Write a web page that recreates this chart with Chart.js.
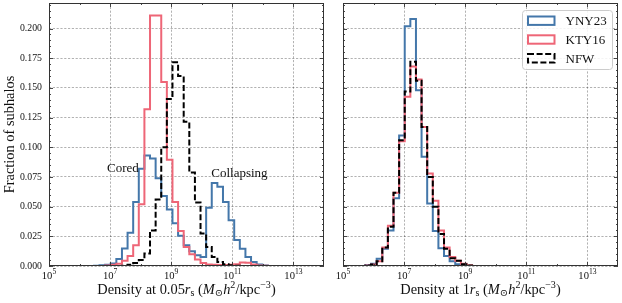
<!DOCTYPE html>
<html><head><meta charset="utf-8">
<script src="https://cdn.jsdelivr.net/npm/chart.js@4.4.1/dist/chart.umd.min.js"></script>
<style>
html,body{margin:0;padding:0;background:#fff;}
#wrap{position:relative;width:622px;height:303px;overflow:hidden;background:#fff;}
canvas{position:absolute;top:0;}
#c1{left:0;} #c2{left:333px;}
</style></head><body>
<div id="wrap"><canvas id="c1" width="333" height="303"></canvas><canvas id="c2" width="289" height="303"></canvas></div>
<script>
// ---- histogram bins: log10(density) from 5 to 14, 49 bins ----
const BIN_LOG_MIN = 5, BIN_LOG_MAX = 14, N_BINS = 49;
const xTickExponents = [5, 7, 9, 11, 13];
const xMinorExponents = [6, 8, 10, 12];
const yTickStep = 0.025;
const yMax = 0.2215;
const seriesNames = ['YNY23', 'KTY16', 'NFW'];

// ---- left panel: density at 0.05 r_s (fraction per bin, bins 0..48) ----
const inner_YNY23 = [0,0,0,0,0,0,0,0, 0.0003,0.0006,0.001,0.0022,0.006,0.0147,0.028,0.054,0.082,0.093,0.0905,0.074,0.059,0.0475,0.036,0.0255,0.0175,0.0125,0.009,0.0075,0.049,0.070,0.0667,0.054,0.0385,0.022,0.0146,0.0076,0.0034,0.0012,0.0004,0.0001, 0,0,0,0,0,0,0,0,0];
const inner_KTY16 = [0,0,0,0,0,0,0,0,0,0, 0.0005,0.001,0.002,0.0045,0.0085,0.0175,0.052,0.132,0.211,0.211,0.155,0.0895,0.054,0.0295,0.016,0.0099,0.0054,0.0025,0.0012,0.001,0.0008,0.0008,0.001,0.0015,0.003,0.0028,0.0012,0.0005,0.0002, 0,0,0,0,0,0,0,0,0,0];
const inner_NFW   = [0,0,0,0,0,0,0,0,0,0,0,0,0, 0.0003,0.001,0.0025,0.005,0.0105,0.030,0.056,0.100,0.1407,0.1716,0.160,0.1215,0.0788,0.0535,0.0273,0.016,0.0076,0.0034,0.0014,0.0006,0.0002, 0,0,0,0,0,0,0,0,0,0,0,0,0,0,0];

// ---- right panel: density at 1 r_s ----
const outer_YNY23 = [0,0,0,0, 0.0008,0.002,0.0062,0.0146,0.030,0.057,0.110,0.202,0.208,0.148,0.092,0.0526,0.0295,0.015,0.0085,0.004,0.0015,0.0005, 0,0,0,0,0,0,0,0,0,0,0,0,0,0,0,0,0,0,0,0,0,0,0,0,0,0,0];
const outer_KTY16 = [0,0,0,0, 0.0005,0.0012,0.004,0.0155,0.034,0.0616,0.105,0.1426,0.168,0.157,0.117,0.078,0.055,0.030,0.0155,0.0076,0.0045,0.0018,0.0006, 0,0,0,0,0,0,0,0,0,0,0,0,0,0,0,0,0,0,0,0,0,0,0,0,0,0];
const outer_NFW   = [0,0,0,0, 0.0005,0.0012,0.004,0.0155,0.033,0.0616,0.106,0.147,0.172,0.156,0.117,0.075,0.050,0.027,0.0146,0.0065,0.0045,0.0015,0.0005, 0,0,0,0,0,0,0,0,0,0,0,0,0,0,0,0,0,0,0,0,0,0,0,0,0,0];

const COLORS = {YNY23: '#4477AA', KTY16: '#EE6677', NFW: '#000000'};
const FONT = '"Liberation Serif", "DejaVu Serif", serif';
const FS = 13;       // legend / annotations
const FS_TITLE = 14.4;
const FS_YTICK = 9.8;
const FS_XTICK = 10.6;
const TXT = '#111';
const AXIS = '#333';
const GRID = 'rgba(0,0,0,0.38)';

const binEdges = Array.from({length: N_BINS + 1}, (_, k) => Math.pow(10, BIN_LOG_MIN + (BIN_LOG_MAX - BIN_LOG_MIN) * k / N_BINS));

function stepData(values) {
  const pts = [{x: binEdges[0], y: 0}];
  values.forEach((v, k) => pts.push({x: binEdges[k], y: v}));
  pts.push({x: binEdges[N_BINS], y: 0});
  return pts;
}

function makeDatasets(vals) {
  return seriesNames.map((name, i) => ({
    label: name,
    data: stepData(vals[i]),
    borderColor: COLORS[name],
    backgroundColor: 'rgba(0,0,0,0)',
    borderWidth: 2,
    borderDash: name === 'NFW' ? [6, 2.6] : [],
    stepped: 'before',
    fill: false,
    pointRadius: 0,
    order: 2 - i,
    borderJoinStyle: 'miter',
    borderCapStyle: 'butt'
  }));
}

function fnt(size, it) { return (it ? 'italic ' : '') + size + 'px ' + FONT; }
function richWidth(ctx, segs) { let w = 0; for (const s of segs) { ctx.font = fnt(s.size, s.it); w += ctx.measureText(s.t).width; } return w; }
function drawRich(ctx, segs, x, y, align) {
  const w = richWidth(ctx, segs);
  let cx = align === 'center' ? x - w / 2 : (align === 'right' ? x - w : x);
  ctx.textAlign = 'left'; ctx.textBaseline = 'alphabetic';
  for (const s of segs) { ctx.font = fnt(s.size, s.it); ctx.fillText(s.t, cx, y + (s.dy || 0)); cx += ctx.measureText(s.t).width; }
}
function xTitle(prefix) {
  const F = FS_TITLE, S = FS_TITLE * 0.7;
  return [{t: 'Density at ' + prefix, size: F}, {t: 'r', it: true, size: F}, {t: 's', size: S, dy: 2.8}, {t: ' (', size: F},
          {t: 'M', it: true, size: F}, {t: '\u2299', size: S, dy: 2.8}, {t: 'h', it: true, size: F}, {t: '2', size: S, dy: -6},
          {t: '/kpc', size: F}, {t: '\u22123', size: S, dy: -6}, {t: ')', size: F}];
}

function framePlugin(extra) {
  return {
    id: 'frame',
    afterDraw(chart) {
      const {ctx, chartArea: a} = chart;
      const x = chart.scales.x, y = chart.scales.y;
      ctx.save();
      // inward ticks
      ctx.strokeStyle = AXIS; ctx.lineWidth = 0.9; ctx.setLineDash([]);
      ctx.beginPath();
      for (const e of xTickExponents) { const px = Math.round(x.getPixelForValue(Math.pow(10, e))) + 0.5;
        ctx.moveTo(px, a.bottom); ctx.lineTo(px, a.bottom - 4); ctx.moveTo(px, a.top); ctx.lineTo(px, a.top + 4); }
      for (const e of xMinorExponents) { const px = Math.round(x.getPixelForValue(Math.pow(10, e))) + 0.5;
        ctx.moveTo(px, a.bottom); ctx.lineTo(px, a.bottom - 2); ctx.moveTo(px, a.top); ctx.lineTo(px, a.top + 2); }
      for (let i = 0; i * 0.005 < yMax; i++) {
        const v = i * 0.005; const py = Math.round(y.getPixelForValue(v)) + 0.5; const len = (i % 5 === 0) ? 4 : 2;
        ctx.moveTo(a.left, py); ctx.lineTo(a.left + len, py); ctx.moveTo(a.right, py); ctx.lineTo(a.right - len, py);
      }
      ctx.stroke();
      // frame
      ctx.lineWidth = 1;
      ctx.strokeRect(Math.round(a.left) + 0.5, Math.round(a.top) + 0.5, Math.round(a.right - a.left) - 1, Math.round(a.bottom - a.top) - 1);
      // x tick labels
      ctx.fillStyle = TXT;
      for (const e of xTickExponents) {
        const px = x.getPixelForValue(Math.pow(10, e));
        drawRich(ctx, [{t: '10', size: FS_XTICK}, {t: String(e), size: FS_XTICK * 0.72, dy: -5}], px, 278.5, 'center');
      }
      drawRich(ctx, xTitle(extra.prefix), (a.left + a.right) / 2, 293.5, 'center');
      if (extra.after) extra.after(chart, ctx, a);
      ctx.restore();
    }
  };
}

function zeroPad(s) { s.paddingTop = 0; s.paddingBottom = 0; s.paddingLeft = 0; s.paddingRight = 0; }

function baseOptions(yAxisWidth, padRight, showYLabels) {
  return {
    responsive: false, animation: false, devicePixelRatio: 1,
    layout: {padding: {top: 3, right: padRight, left: 0, bottom: 0}},
    plugins: {legend: {display: false}, tooltip: {enabled: false}},
    elements: {point: {radius: 0}, line: {tension: 0}},
    scales: {
      x: {type: 'logarithmic', bounds: 'data', min: Math.pow(10, BIN_LOG_MIN), max: Math.pow(10, BIN_LOG_MAX),
          afterBuildTicks: s => { s.ticks = xTickExponents.map(e => ({value: Math.pow(10, e)})); },
          ticks: {display: false},
          grid: {color: GRID, lineWidth: 0.8, drawTicks: false},
          border: {display: false, dash: [2.2, 1.6]},
          afterFit: s => { s.height = 37; zeroPad(s); }},
      y: {type: 'linear', bounds: 'data', min: 0, max: yMax,
          ticks: {display: showYLabels, stepSize: yTickStep, includeBounds: false, padding: 7, color: TXT,
                  font: {family: FONT, size: FS_YTICK}, callback: v => Number(v).toFixed(3)},
          grid: {color: GRID, lineWidth: 0.8, drawTicks: false},
          border: {display: false, dash: [2.2, 1.6]},
          afterFit: s => { s.width = yAxisWidth; zeroPad(s); }}
    }
  };
}

// left panel
new Chart(document.getElementById('c1'), {
  type: 'line',
  data: {datasets: makeDatasets([inner_YNY23, inner_KTY16, inner_NFW])},
  options: baseOptions(49, 9, true),
  plugins: [framePlugin({prefix: '0.05', after(chart, ctx, a) {
    const x = chart.scales.x, y = chart.scales.y;
    ctx.fillStyle = TXT; ctx.font = fnt(FS, false); ctx.textAlign = 'left'; ctx.textBaseline = 'alphabetic';
    ctx.fillText('Cored', x.getPixelForValue(Math.pow(10, 6.9)), y.getPixelForValue(0.0795));
    ctx.fillText('Collapsing', x.getPixelForValue(Math.pow(10, 10.31)), y.getPixelForValue(0.0752));
    // y title
    ctx.save(); ctx.translate(14, 134.5); ctx.rotate(-Math.PI / 2); ctx.textAlign = 'center';
    ctx.font = fnt(FS_TITLE, false);
    ctx.fillText('Fraction of subhalos', 0, 0); ctx.restore();
  }})]
});

// right panel
new Chart(document.getElementById('c2'), {
  type: 'line',
  data: {datasets: makeDatasets([outer_YNY23, outer_KTY16, outer_NFW])},
  options: baseOptions(10, 4, false),
  plugins: [framePlugin({prefix: '1', after(chart, ctx, a) {
    const L = a.right - 96, T = a.top + 7, W = 90, H = 59;
    ctx.setLineDash([]);
    ctx.fillStyle = 'rgba(255,255,255,0.85)'; ctx.strokeStyle = '#cccccc'; ctx.lineWidth = 1;
    ctx.beginPath(); ctx.roundRect(L + 0.5, T + 0.5, W, H, 3); ctx.fill(); ctx.stroke();
    const rows = [10.7, 29.5, 48.3];
    chart.data.datasets.forEach((ds, i) => {
      const cy = T + rows[i];
      ctx.strokeStyle = ds.borderColor; ctx.lineWidth = ds.borderWidth; ctx.setLineDash(ds.borderDash);
      ctx.strokeRect(L + 6, cy - 4.2, 26.5, 8.4);
      ctx.setLineDash([]);
      ctx.fillStyle = TXT; ctx.font = fnt(FS, false); ctx.textAlign = 'left'; ctx.textBaseline = 'alphabetic';
      ctx.fillText(ds.label, L + 43.5, cy + 4.6);
    });
  }})]
});
</script>
</body></html>
